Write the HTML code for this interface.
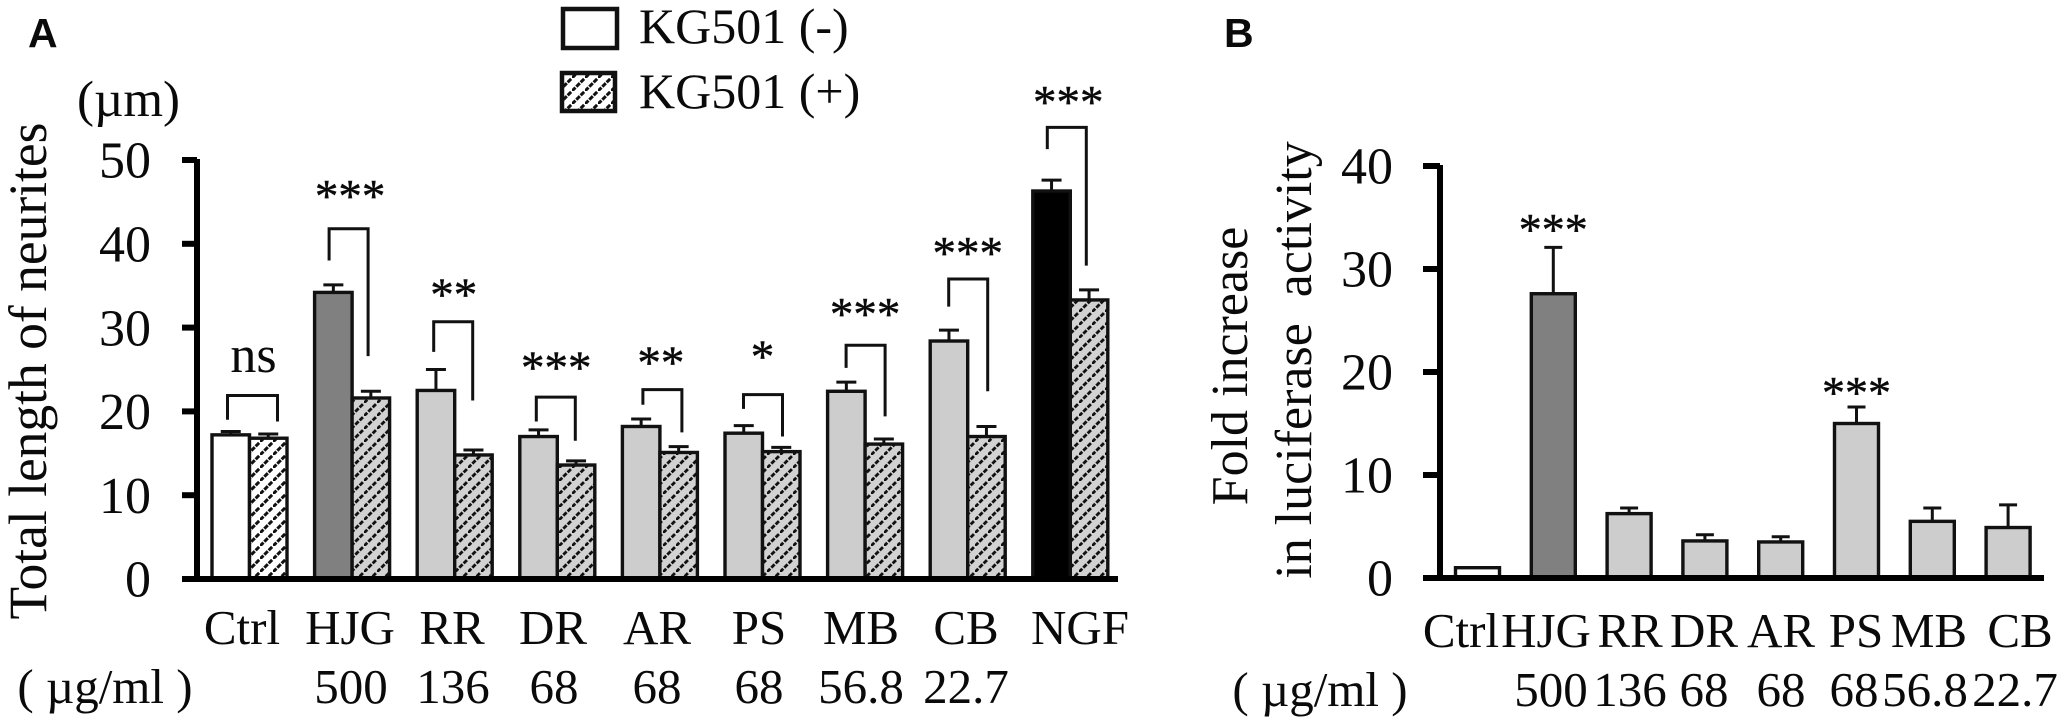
<!DOCTYPE html>
<html lang="en">
<head>
<meta charset="utf-8">
<title>Neurite length and luciferase activity</title>
<style>
html,body{margin:0;padding:0;background:#fff;}
body{width:2070px;height:722px;overflow:hidden;}
svg{display:block;}
text{font-family:"Liberation Serif",serif;fill:#0a0a0a;}
.panel-letter{font-family:"Liberation Sans",sans-serif;font-weight:bold;font-size:41px;}
</style>
</head>
<body>
<svg id="figure" width="2070" height="722" viewBox="0 0 2070 722" xmlns="http://www.w3.org/2000/svg">
  <defs>
    <pattern id="hatch-gray" patternUnits="userSpaceOnUse" width="13" height="13">
      <rect width="13" height="13" fill="#d2d2d2"/>
      <path d="M0 13 L13 0" stroke="#111" stroke-width="2.8" stroke-dasharray="4.6 1.53" fill="none"/>
    </pattern>
    <pattern id="hatch-white" patternUnits="userSpaceOnUse" width="13" height="13">
      <rect width="13" height="13" fill="#fff"/>
      <path d="M0 13 L13 0" stroke="#111" stroke-width="3" stroke-dasharray="4.9 1.23" fill="none"/>
    </pattern>
  </defs>

  <text class="panel-letter" x="28" y="47">A</text>
  <text class="panel-letter" x="1224" y="47">B</text>

  <g>
    <rect x="563" y="9" width="54" height="39" fill="#fff" stroke="#111" stroke-width="4.5"/>
    <text x="639" y="43" font-size="50">KG501 (-)</text>
    <rect x="562" y="73" width="53" height="38" fill="url(#hatch-white)" stroke="#111" stroke-width="4.5"/>
    <text x="639" y="108" font-size="50">KG501 (+)</text>
  </g>

  <g id="panel-a">
    <text x="77" y="116" font-size="51">(µm)</text>
    <text transform="translate(46,371) rotate(-90)" text-anchor="middle" font-size="53.5">Total length of neurites</text>
    <g font-size="49" text-anchor="middle">
      <text x="242" y="644">Ctrl</text>
      <text x="350" y="644">HJG</text>
      <text x="452" y="644">RR</text>
      <text x="553" y="644">DR</text>
      <text x="657" y="644">AR</text>
      <text x="759" y="644">PS</text>
      <text x="861" y="644">MB</text>
      <text x="966" y="644">CB</text>
      <text x="1080" y="644">NGF</text>
    </g>
    <g font-size="49" text-anchor="middle">
      <text x="105" y="703">( µg/ml )</text>
      <text x="351" y="703">500</text>
      <text x="453" y="703">136</text>
      <text x="554" y="703">68</text>
      <text x="657" y="703">68</text>
      <text x="759" y="703">68</text>
      <text x="861" y="703">56.8</text>
      <text x="966" y="703">22.7</text>
    </g>
  </g>

  <g id="panel-b">
    <text transform="translate(1247,366) rotate(-90)" text-anchor="middle" font-size="52">Fold increase</text>
    <text transform="translate(1311,360) rotate(-90)" text-anchor="middle" font-size="52" xml:space="preserve">in luciferase  activity</text>
    <g font-size="49" text-anchor="middle">
      <text x="1461" y="647">Ctrl</text>
      <text x="1546" y="647">HJG</text>
      <text x="1630" y="647">RR</text>
      <text x="1704" y="647">DR</text>
      <text x="1781" y="647">AR</text>
      <text x="1856" y="647">PS</text>
      <text x="1929" y="647">MB</text>
      <text x="2020" y="647">CB</text>
    </g>
    <g font-size="49" text-anchor="middle">
      <text x="1320" y="706">( µg/ml )</text>
      <text x="1551" y="706">500</text>
      <text x="1630" y="706">136</text>
      <text x="1704" y="706">68</text>
      <text x="1781" y="706">68</text>
      <text x="1854" y="706">68</text>
      <text x="1925" y="706">56.8</text>
      <text x="2015" y="706">22.7</text>
    </g>
  </g>
</svg>

<script>
// ---------- Panel A data ----------
const categoriesA = ['Ctrl','HJG','RR','DR','AR','PS','MB','CB','NGF'];
const fillsA = ['#ffffff','#808080','#cdcdcd','#cdcdcd','#cdcdcd','#cdcdcd','#cdcdcd','#cdcdcd','#000000'];
const kgMinusValues = [17.2,34.2,22.5,17.0,18.2,17.4,22.4,28.4,46.3];
const kgMinusErrors = [0.4,0.9,2.5,0.8,0.9,0.9,1.1,1.3,1.3];
const kgPlusValues = [16.8,21.6,14.8,13.6,15.1,15.2,16.1,17.0,33.3];
const kgPlusErrors = [0.5,0.8,0.6,0.5,0.7,0.5,0.6,1.2,1.2];
const ticksA = [0,10,20,30,40,50];
const sigLabelsA = ['ns','***','**','***','**','*','***','***','***'];
const sigLevelsA = [27.2,46.2,34.4,25.7,26.3,27.0,32.1,39.4,57.4];
const bracketTopsA = [21.9,41.8,30.7,21.7,22.6,22.0,27.9,35.8,53.9];
const bracketLeftEndsA = [19.0,38.0,27.1,18.8,20.8,20.3,25.2,32.5,51.3];
const bracketRightEndsA = [18.8,26.6,21.3,16.5,17.5,17.0,19.4,22.4,37.4];

// ---------- Panel B data ----------
const categoriesB = ['Ctrl','HJG','RR','DR','AR','PS','MB','CB'];
const fillsB = ['#ffffff','#808080','#cdcdcd','#cdcdcd','#cdcdcd','#cdcdcd','#cdcdcd','#cdcdcd'];
const foldValues = [1.0,27.6,6.25,3.6,3.5,15.0,5.5,4.9];
const foldErrors = [0,4.5,0.55,0.6,0.5,1.6,1.3,2.2];
const ticksB = [0,10,20,30,40];
const sigLabelsB = ['','***','','','','***','',''];
const sigLevelsB = [0,34.2,0,0,0,18.4,0,0];

// ---------- Axis functions ----------
const yA = v => 579 - v * 8.38;
const xA = i => 249.5 + i * 102.6;
const yB = v => 578 - v * 10.3;
const xB = i => 1477.5 + i * 75.8;

const NS = 'http://www.w3.org/2000/svg';
function make(parent, tag, attrs) {
  const el = document.createElementNS(NS, tag);
  for (const k in attrs) el.setAttribute(k, attrs[k]);
  parent.appendChild(el);
  return el;
}
function slug(s) { return s.toLowerCase(); }

function drawErrorBar(parent, cx, yTop, yVal, capHalf, label) {
  const el = make(parent, 'path', {
    d: 'M' + cx + ' ' + yVal + ' V' + yTop + ' M' + (cx - capHalf) + ' ' + yTop + ' H' + (cx + capHalf),
    fill: 'none', stroke: '#111', 'stroke-width': 3
  });
  
  
}

function drawBar(parent, x, w, yVal, y0, fill, label) {
  const el = make(parent, 'rect', {
    x: x, y: yVal, width: w, height: y0 - yVal,
    fill: fill, stroke: '#111', 'stroke-width': 3.4
  });
  
  
}

function drawYAxis(parent, axisX, tickLeft, yFn, ticks, labelRight, fontSize, panel) {
  const axis = make(parent, 'line', { x1: axisX, x2: axisX, y1: yFn(ticks[ticks.length - 1]) - 1, y2: yFn(0), stroke: '#000', 'stroke-width': 6 });
  
  
  ticks.forEach(t => {
    const tick = make(parent, 'line', { x1: tickLeft, x2: axisX, y1: yFn(t), y2: yFn(t), stroke: '#000', 'stroke-width': 6 });
    
    
    const lab = make(parent, 'text', { x: labelRight, y: yFn(t) + fontSize * 0.34, 'text-anchor': 'end', 'font-size': fontSize });
    lab.textContent = String(t);
    
    
  });
}

// ---------- Panel A ----------
const panelA = document.getElementById('panel-a');
const barW = 37.5;
drawYAxis(panelA, 197, 182, yA, ticksA, 151, 52, 'a');
categoriesA.forEach((cat, i) => {
  const c = xA(i);
  const name = slug(cat);
  drawErrorBar(panelA, c - barW / 2, yA(kgMinusValues[i] + kgMinusErrors[i]), yA(kgMinusValues[i]), 10, name + '-kg501-minus');
  drawErrorBar(panelA, c + barW / 2, yA(kgPlusValues[i] + kgPlusErrors[i]), yA(kgPlusValues[i]), 10, name + '-kg501-plus');
  drawBar(panelA, c - barW, barW, yA(kgMinusValues[i]), yA(0), fillsA[i], name + '-kg501-minus');
  drawBar(panelA, c, barW, yA(kgPlusValues[i]), yA(0), i === 0 ? 'url(#hatch-white)' : 'url(#hatch-gray)', name + '-kg501-plus');

  const shift = (cat === 'HJG' || cat === 'NGF') ? -4 : (cat === 'RR' || cat === 'DR') ? -2 : (cat === 'AR' ? 2 : 0);
  const halfL = i === 0 ? 22 : 19;
  const halfR = i === 0 ? 28 : 20;
  const bracket = make(panelA, 'path', {
    d: 'M' + (c - halfL + shift) + ' ' + yA(bracketLeftEndsA[i]) + ' V' + yA(bracketTopsA[i]) + ' H' + (c + halfR + shift) + ' V' + yA(bracketRightEndsA[i]),
    fill: 'none', stroke: '#111', 'stroke-width': 3
  });
  
  

  const isNs = sigLabelsA[i] === 'ns';
  const size = isNs ? 52 : 47;
  const sig = make(panelA, 'text', { x: c + (isNs ? 4 : shift / 2), y: yA(sigLevelsA[i]) + (isNs ? 21 : 19.5), 'text-anchor': 'middle', 'font-size': size });
  if (!isNs) {
    sig.setAttribute('stroke', '#111');
    sig.setAttribute('stroke-width', '0.5');
  }
  sig.textContent = sigLabelsA[i];
  
  
});
const baseA = make(panelA, 'line', { x1: 182, x2: 1118, y1: yA(0), y2: yA(0), stroke: '#000', 'stroke-width': 6 });



// ---------- Panel B ----------
const panelB = document.getElementById('panel-b');
const barWB = 44;
drawYAxis(panelB, 1440, 1423, yB, ticksB, 1393, 52, 'b');
categoriesB.forEach((cat, i) => {
  const c = xB(i);
  const name = slug(cat);
  if (foldErrors[i] > 0) {
    drawErrorBar(panelB, c, yB(foldValues[i] + foldErrors[i]), yB(foldValues[i]), 9, name + '-fold');
  }
  drawBar(panelB, c - barWB / 2, barWB, yB(foldValues[i]), yB(0), fillsB[i], name + '-fold');
  if (sigLabelsB[i]) {
    const sig = make(panelB, 'text', { x: c, y: yB(sigLevelsB[i]) + 19.5, 'text-anchor': 'middle', 'font-size': 46, stroke: '#111', 'stroke-width': 0.5 });
    sig.textContent = sigLabelsB[i];
    
    
  }
});
const baseB = make(panelB, 'line', { x1: 1423, x2: 2044, y1: yB(0), y2: yB(0), stroke: '#000', 'stroke-width': 6 });


</script>
</body>
</html>
